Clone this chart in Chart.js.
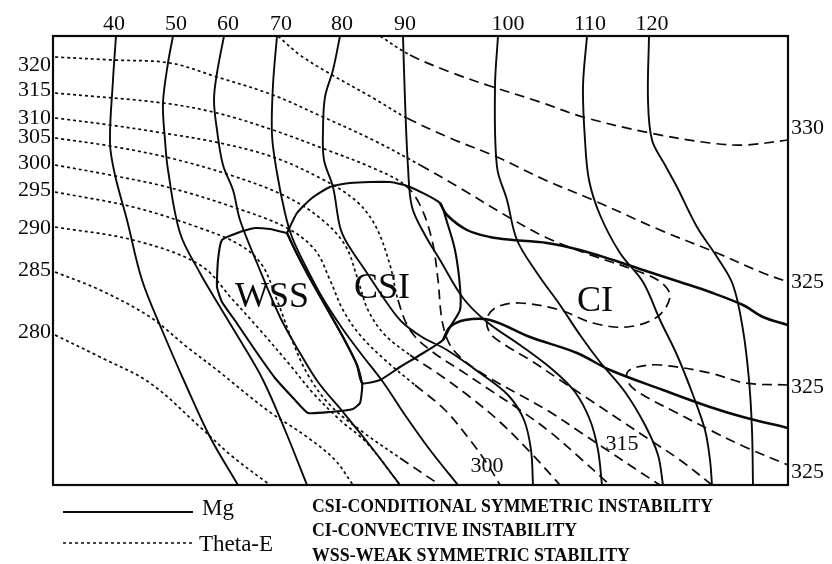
<!DOCTYPE html>
<html>
<head>
<meta charset="utf-8">
<script src="https://cdn.jsdelivr.net/npm/chart.js@4.4.0/dist/chart.umd.min.js"></script>
<style>
body { margin: 0; background: #fff; }
</style>
</head>
<body>
<canvas id="myChart1" width="832" height="564"></canvas>
<script>
// cross-section distance (x) and height (y), in figure units
const mg40 = [[116,36],[113,80],[110,143],[115,175],[127,220],[142,280],[162,330],[185,383],[210,437],[238,485]];
const mg50 = [[173,36],[168,63],[163,103],[165,140],[168,170],[180,233],[200,273],[220,307],[240,340],[263,380],[285,430],[307,485]];
const mg60 = [[224,36],[217,73],[214,100],[217,130],[223,165],[233,190],[240,220],[257,263],[280,317],[300,353],[318,382],[343,412],[372,448],[400,485]];
const mg70 = [[277,36],[273,85],[272,135],[277,173],[285,213],[292,237],[305,265],[322,297],[342,328],[362,355],[383,382],[405,415],[430,450],[458,485]];
const mg80 = [[340,36],[333,70],[325,97],[323,130],[324,160],[333,187],[340,227],[347,243],[367,273],[387,303],[402,322],[422,337],[447,350],[480,373],[508,395],[524,420],[531,450],[533,485]];
const mg90 = [[403,36],[405,100],[408,167],[412,207],[425,235],[440,260],[463,298],[487,322],[520,345],[553,370],[575,392],[590,420],[598,450],[602,485]];
const mg100 = [[498,36],[495,87],[497,167],[507,200],[517,240],[537,273],[560,305],[580,335],[600,362],[625,392],[645,425],[658,455],[663,485]];
const mg110 = [[587,36],[583,87],[585,140],[589,180],[600,215],[620,253],[643,282],[660,320],[677,355],[693,395],[705,430],[710,460],[712,485]];
const mg120 = [[649,36],[648,100],[652,140],[665,165],[677,187],[697,227],[717,257],[733,285],[743,330],[749,380],[752,430],[753,485]];

const te330 = [[380,36],[410,55],[450,72],[493,87],[540,102],[583,117],[650,133],[710,143],[745,145],[788,140]];
const te325a = [[278,36],[300,55],[327,72],[373,98],[407,118],[450,138],[497,157],[545,180],[593,200],[660,230],[717,253],[763,273],[788,282]];
const te325b = [[788,385],[745,383],[710,373],[660,365],[637,367],[627,373],[630,385],[643,395],[677,413],[710,430],[745,447],[788,465]];
const te320 = [[55,57],[113,60],[170,63],[217,77],[273,95],[323,117],[373,140],[420,165],[460,188],[510,218],[545,237],[585,253],[640,272],[662,283],[670,297],[657,317],[627,327],[593,323],[560,310],[520,303],[497,307],[487,318],[490,333],[505,345],[530,360],[560,380],[590,400],[620,420],[650,440],[680,460],[712,485]];
const te315 = [[55,93],[163,103],[217,113],[273,130],[327,150],[373,168],[405,185],[420,205],[432,240],[438,280],[442,320],[450,345],[467,363],[493,380],[520,395],[550,412],[580,432],[610,452],[640,472],[660,485]];
const te310 = [[55,118],[110,125],[163,133],[220,143],[273,157],[320,178],[355,200],[375,225],[390,265],[398,300],[410,330],[430,350],[460,370],[490,390],[520,410],[550,432],[580,458],[610,485]];
const te305 = [[55,138],[110,146],[170,158],[230,175],[283,195],[320,218],[345,245],[358,280],[368,310],[385,335],[410,355],[440,375],[470,397],[500,422],[530,452],[560,485]];
const te300 = [[55,165],[110,175],[167,187],[233,207],[287,228],[315,250],[330,280],[343,310],[360,335],[385,360],[415,385],[445,410],[470,440],[488,465],[500,485]];
const te295 = [[55,192],[133,207],[200,228],[240,245],[262,265],[277,300],[292,340],[308,375],[330,405],[360,430],[400,458],[440,485]];
const te290 = [[55,227],[133,240],[200,265],[233,300],[260,330],[290,365],[313,393],[340,420],[367,443],[400,485]];
const te285 = [[55,272],[100,290],[150,317],[187,347],[217,370],[267,410],[307,437],[335,460],[353,485]];
const te280 = [[55,335],[100,357],[150,383],[200,427],[233,457],[270,485]];

const wssArea = [[287,233],[270,229],[255,228],[240,232],[222,240],[218,260],[217,287],[222,302],[236,322],[255,350],[275,378],[295,400],[308,413],[330,412],[353,409],[360,403],[362,390],[362,383],[357,365],[343,337],[325,305],[308,275],[295,250],[287,233]];
const csiArea = [[287,233],[297,213],[312,198],[330,187],[350,183],[390,182],[410,187],[440,203],[447,222],[455,250],[460,287],[460,310],[450,327],[443,340],[420,355],[400,367],[380,380],[362,383],[357,365],[343,337],[325,305],[308,275],[295,250],[287,233]];
const upperBound = [[440,203],[447,215],[467,230],[490,237],[513,240],[547,243],[580,250],[613,260],[643,270],[680,282],[710,292],[743,305],[763,317],[788,325]];
const lowerBound = [[443,340],[450,327],[465,320],[490,320],[530,337],[577,353],[610,370],[663,390],[710,407],[743,417],[788,428]];

// tick labels
const mgTicks = ['40','50','60','70','80','90','100','110','120'];
const mgTickX = [114,176,228,281,342,405,508,590,652];
const teLeftTicks = ['320','315','310','305','300','295','290','285','280'];
const teLeftY = [65,90,118,137,163,190,228,270,332];
const teRightTicks = ['330','325','325','325'];
const teRightY = [128,282,387,472];
const teInnerTicks = ['300','315'];
const teInnerPos = [[487,466],[622,444]];
const regionNames = ['WSS','CSI','CI'];
const regionPos = [[272,298],[382,289],[595,302]];
const notes = ['CSI-CONDITIONAL SYMMETRIC INSTABILITY','CI-CONVECTIVE INSTABILITY','WSS-WEAK SYMMETRIC STABILITY'];

const toXY = arr => arr.map(p => ({x: p[0], y: p[1]}));
const ink = '#0a0a0a';
const thetaDash = ctx => ctx.p0.parsed.x >= 395 ? [10,6] : [3,3];

function mgSet(arr) {
  return {data: toXY(arr), borderColor: ink, borderWidth: 1.9, tension: 0.35};
}
function teSet(arr) {
  return {data: toXY(arr), borderColor: ink, borderWidth: 1.7, tension: 0.35,
    segment: {borderDash: thetaDash}};
}
function bSet(arr, w, t) {
  return {data: toXY(arr), borderColor: ink, borderWidth: w, tension: t};
}

const datasets1 = [
  mgSet(mg40), mgSet(mg50), mgSet(mg60), mgSet(mg70), mgSet(mg80),
  mgSet(mg90), mgSet(mg100), mgSet(mg110), mgSet(mg120),
  teSet(te330), teSet(te325a), teSet(te325b), teSet(te320), teSet(te315),
  teSet(te310), teSet(te305), teSet(te300), teSet(te295), teSet(te290),
  teSet(te285), teSet(te280),
  bSet(wssArea, 2.1, 0.15), bSet(csiArea, 2.1, 0.2),
  bSet(upperBound, 2.5, 0.35), bSet(lowerBound, 2.5, 0.35)
];

const textPlugin = {
  id: 'textPlugin',
  afterDraw(chart) {
    const c = chart.ctx;
    const xs = chart.scales.x, ys = chart.scales.y;
    const a = chart.chartArea;
    c.save();
    // frame
    c.strokeStyle = ink;
    c.lineWidth = 2.2;
    c.strokeRect(a.left, a.top, a.right - a.left, a.bottom - a.top);

    c.fillStyle = ink;
    c.font = '22px "Liberation Serif", serif';
    c.textBaseline = 'middle';
    c.textAlign = 'center';
    mgTicks.forEach((t, i) => c.fillText(t, xs.getPixelForValue(mgTickX[i]), 24));
    c.textAlign = 'right';
    teLeftTicks.forEach((t, i) => c.fillText(t, a.left - 2, ys.getPixelForValue(teLeftY[i])));
    c.textAlign = 'left';
    teRightTicks.forEach((t, i) => c.fillText(t, a.right + 3, ys.getPixelForValue(teRightY[i])));
    c.textAlign = 'center';
    teInnerTicks.forEach((t, i) => c.fillText(t, xs.getPixelForValue(teInnerPos[i][0]), ys.getPixelForValue(teInnerPos[i][1])));

    c.font = '36px "Liberation Serif", serif';
    regionNames.forEach((t, i) => c.fillText(t, xs.getPixelForValue(regionPos[i][0]), ys.getPixelForValue(regionPos[i][1])));

    // legend
    c.lineWidth = 2;
    c.beginPath(); c.moveTo(63, 512); c.lineTo(193, 512); c.stroke();
    c.lineWidth = 1.7;
    c.setLineDash([3, 3]);
    c.beginPath(); c.moveTo(63, 543); c.lineTo(193, 543); c.stroke();
    c.setLineDash([]);
    c.textAlign = 'left';
    c.font = '23px "Liberation Serif", serif';
    c.fillText('Mg', 202, 509);
    c.fillText('Theta-E', 199, 545);
    c.font = 'bold 19px "Liberation Serif", serif';
    c.fillText(notes[0], 312, 507, 401);
    c.fillText(notes[1], 312, 531, 265);
    c.fillText(notes[2], 312, 556, 318);
    c.restore();
  }
};

const config1 = {
  type: 'scatter',
  data: {datasets: datasets1},
  options: {
    responsive: false,
    animation: false,
    devicePixelRatio: 1,
    showLine: true,
    elements: {point: {radius: 0}},
    layout: {padding: {left: 53, right: 44, top: 36, bottom: 79}},
    scales: {
      x: {type: 'linear', min: 53, max: 788, display: false},
      y: {type: 'linear', min: 36, max: 485, reverse: true, display: false}
    },
    plugins: {legend: {display: false}, tooltip: {enabled: false}}
  },
  plugins: [textPlugin]
};
const myChart1 = new Chart(document.getElementById('myChart1'), config1);
</script>
</body>
</html>
